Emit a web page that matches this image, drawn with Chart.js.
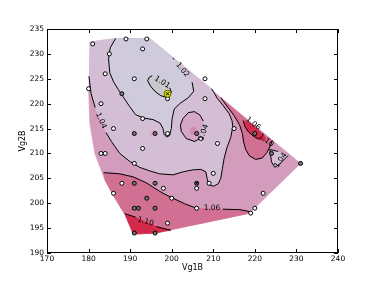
<!DOCTYPE html>
<html>
<head>
<meta charset="utf-8">
<script src="https://cdn.jsdelivr.net/npm/chart.js@4.4.0/dist/chart.umd.min.js"></script>
<style>
html,body{margin:0;padding:0;background:#fff;}
</style>
</head>
<body>
<canvas id="myChart" width="376" height="282"></canvas>
<script>
var xTicks = [170,180,190,200,210,220,230,240];
var yTicks = [190,195,200,205,210,215,220,225,230,235];

// measured points (open markers)
var openX = [181,189,194,193,185,184,191,208,180,199,208,183,193,186,199,207,215,211,193,183,184,191,210,209,188,198,206,186,222,200,206,220,219,199];
var openY = [232,233,233,231,230,226,225,225,223,221,221,220,217,215,214,213,215,212,211,210,210,208,206,204,204,203,203,202,202,201,199,199,198,196];
// measured points (filled markers)
var darkX = [188,191,196,206,220,224,231,191,196,194,191,192,196,191,196,206];
var darkY = [222,214,214,214,214,210,208,204,204,201,199,199,199,194,194,204];
// marked points
var crossX = [206,199];
var crossY = [204,222];
var bestX = [199];
var bestY = [222];

// data hull and contour paths (Vg1B, Vg2B); null = label gap
var hull = [[180.3,232.4],[186.7,233.1],[194.7,233.1],[231,208],[220.8,199.7],[218.8,198],[196,194],[190.7,193.8],[188.7,197.8],[186,201.5],[183.9,204.7],[181.5,210],[180.3,216],[180,223]];
var c104 = [[180.1,225.5],[180.6,222],[181.6,219.2],null,[184.2,214.2],[185.5,212.4],[187.5,210],[189.9,208.4],[192.3,207.2],[194.7,206.5],[197.1,205.9],[200.3,205.7],[202.7,206.3],[205.1,206.7],[207,206.8],[208.2,206.3],[208.5,205],[208.9,203.8],[210,203.4],[211.2,203.9],[211.8,205],[212.2,207],[212.6,209],[213.3,211.2],[214.2,213.2],[214.7,215.4],[214.5,216.6],[213.8,218],[212.4,219.6],[211,221],[210.2,222.2],[209.6,223]];
var c104Top = [[194.7,233.1],[186.7,233.1],[180.3,232.4]];
var c102 = [[186.5,233.1],[185.2,231.2],[184.8,229],[185.1,226.2],[186,224.4],[187.2,222.8],[188.3,221.4],[189.9,219.4],[191.3,217.8],[193.3,217.1],[195.5,216.8],[197.2,216.1],[197.9,215],[198.2,213.8],[198.8,213.3],[199.5,213.6],[199.9,215],[200.1,217],[200.6,218.9],[201.9,220],[204,221.2],[205.3,222.5],[204.9,224.3],null,[200.5,228.9],[200.3,229.2]];
var c102Top = [[194.7,233.1]];
var c101 = [[199.5,223.2],[199.9,222.4],[199.6,221.6],[198.6,221.3],[197.4,221.6],[196.2,222.3],[195,223.4],[194.2,224.6],[194.6,225.3],[195.3,225.6]];
var c101Rest = [[196.2,225.5],[197.3,225],[198.5,224.1]];
var c104Ring = [[206.9,213.1],[205.5,212.4],[203.5,213],[202.3,214.4],[202.1,215.7],[202.7,217],[204,218.2],[205.5,218.4],[206.8,217.7],[207.6,216.5]];
var ringSpot = [[204.6,215.2],[205.6,215.4],[206.2,214.6],[205.7,213.8],[204.7,213.8],[204.3,214.5]];
var leftSpot = [[195,214.6],[195.9,214.7],[196.3,214],[195.9,213.4],[195,213.4],[194.7,214]];
var c106Low = [[183.6,206.1],[184.4,206.1],[187.5,205.9],[190.7,205.3],[193.9,204.1],[195.9,203],[197.9,202],[200.3,201],[203.1,199.9],[205.9,199],null,[212.3,198.8],[216.4,198.7],[218.9,198.3]];
var c106LowRest = [[218.8,198],[196,194],[190.7,193.8],[188.7,197.8],[186,201.5],[183.9,204.7]];
var c110Low = [[188.7,197.9],[191.3,197.2],null,[196.3,195.3],[199.1,194.7],[199.8,194.6]];
var c110LowRest = [[196,194],[190.7,193.8]];
var c106Up = [[211.8,221.2],[213.5,219.3],[215,217.6],[216.3,215.8],[217,214],[217.3,212.3],[217.8,210.8],[218.7,209.5],[220.2,208.8],[221.8,209.1],[222.9,210.2],[223.6,211.3],[224.2,212.6]];
var c110Up = [[217.2,216.6],[217.6,215.4],[218.5,214.3],[219.8,213.4],[221.1,212.8]];
var c110UpRest = [[222.4,212.5],[222.7,213],[221.6,214.1],[220.2,215.2],[218.6,216.2]];
var island = [[225.6,210.4],[223.6,210.8],[224,208.3],[224.8,207.2],[226,207.9],[228,209.6]];

// contour labels
var labelText = ['1.01','1.02','1.04','1.04','1.06','1.10','1.04','1.06','1.10'];
var labelX = [197.7,202.6,183.0,207.7,219.6,222.7,226.2,209.7,193.7];
var labelY = [224.3,226.8,216.6,214.2,216.0,212.6,208.6,199.0,196.3];
var labelRot = [32,50,66,-70,38,38,-55,0,15];

function pts(arr) {
  var out = [], prev = null;
  arr.forEach(function(p){
    if (p) { out.push({x:p[0], y:p[1]}); prev = p; }
    else out.push({x:prev[0], y:null});
  });
  return out;
}
function solid(arr) { return arr.filter(function(p){ return p; }); }
function xy(xs, ys) { return xs.map(function(v,i){ return {x:v, y:ys[i]}; }); }

var layer = 100;
function shape(arr, color) {
  return {data:pts(solid(arr)), fill:'shape', backgroundColor:color, borderColor:color,
          borderWidth:0.6, pointRadius:0, tension:0, order:layer--};
}
function contour(arr) {
  return {data:pts(arr), fill:false, borderColor:'#000', borderWidth:1, pointRadius:0, tension:0, order:10};
}

var datasets = [
  shape(hull, '#d49cbc'),
  shape(c104.concat(c104Top), '#d3bed6'),
  shape(c102.concat(c102Top), '#cfcbdc'),
  shape(c101.concat(c101Rest), '#c9c9cc'),
  shape(c104Ring, '#d6a6c6'),
  shape(ringSpot, '#d38cb4'),
  shape(leftSpot, '#d8abca'),
  shape(c106Low.concat(c106LowRest), '#d27093'),
  shape(c110Low.concat(c110LowRest), '#d32a4c'),
  shape(c106Up, '#d27093'),
  shape(c110Up.concat(c110UpRest), '#d32a4c'),
  shape(island, '#d3bed6'),
  contour(c104), contour(c102), contour(c101), contour(c104Ring),
  contour(c106Low), contour(c110Low), contour(c106Up), contour(c110Up), contour(island),
  {data:xy(openX, openY), showLine:false, pointRadius:2, pointBackgroundColor:'#fff',
   pointBorderColor:'#000', pointBorderWidth:1, order:4},
  {data:xy(darkX, darkY), showLine:false, pointRadius:2, pointBackgroundColor:'#777',
   pointBorderColor:'#000', pointBorderWidth:1, order:3},
  {data:xy(bestX, bestY), showLine:false, pointRadius:3.5, pointBackgroundColor:'#ccd800',
   pointBorderColor:'#6b6b00', pointBorderWidth:1, order:2},
  {data:xy(crossX, crossY), showLine:false, pointStyle:'crossRot', pointRadius:2,
   pointBorderColor:'#000', pointBorderWidth:1, order:1}
];

var decor = {
  id:'decor',
  afterDatasetsDraw: function(chart) {
    var ctx = chart.ctx, sx = chart.scales.x, sy = chart.scales.y;
    ctx.save();
    ctx.font = '7.5px "DejaVu Sans"';
    ctx.fillStyle = '#000';
    ctx.textAlign = 'center';
    ctx.textBaseline = 'middle';
    labelText.forEach(function(t, i){
      ctx.save();
      ctx.translate(sx.getPixelForValue(labelX[i]), sy.getPixelForValue(labelY[i]));
      ctx.rotate(labelRot[i] * Math.PI / 180);
      ctx.fillText(t, 0, 0);
      ctx.restore();
    });
    ctx.restore();
  },
  afterDraw: function(chart) {
    var ctx = chart.ctx, a = chart.chartArea, sx = chart.scales.x, sy = chart.scales.y;
    ctx.save();
    ctx.strokeStyle = '#000';
    ctx.lineWidth = 1;
    ctx.strokeRect(a.left + 0.5, a.top + 0.5, a.right - a.left - 1, a.bottom - a.top - 1);
    ctx.beginPath();
    xTicks.forEach(function(v){
      var px = Math.round(sx.getPixelForValue(v)) + 0.5;
      ctx.moveTo(px, a.bottom); ctx.lineTo(px, a.bottom - 4);
      ctx.moveTo(px, a.top); ctx.lineTo(px, a.top + 4);
    });
    yTicks.forEach(function(v){
      var py = Math.round(sy.getPixelForValue(v)) + 0.5;
      ctx.moveTo(a.left, py); ctx.lineTo(a.left + 4, py);
      ctx.moveTo(a.right, py); ctx.lineTo(a.right - 4, py);
    });
    ctx.stroke();
    ctx.fillStyle = '#000';
    ctx.font = '8px "DejaVu Sans"';
    ctx.textAlign = 'center';
    ctx.textBaseline = 'middle';
    ctx.fillText('Vg1B', (a.left + a.right) / 2, a.bottom + 15);
    ctx.translate(a.left - 24, (a.top + a.bottom) / 2);
    ctx.rotate(-Math.PI / 2);
    ctx.fillText('Vg2B', 0, 0);
    ctx.restore();
  }
};

var tickFont = {family:'DejaVu Sans', size:7.5};
new Chart(document.getElementById('myChart').getContext('2d'), {
  type:'line',
  data:{datasets:datasets},
  options:{
    responsive:false,
    animation:false,
    devicePixelRatio:1,
    layout:{padding:{left:0, top:29, right:38, bottom:0}},
    plugins:{legend:{display:false}, tooltip:{enabled:false}},
    scales:{
      x:{type:'linear', min:170, max:240,
         afterBuildTicks:function(s){ s.ticks = xTicks.map(function(v){ return {value:v}; }); },
         afterFit:function(s){ s.height = 29; },
         ticks:{color:'#000', font:tickFont, padding:2, maxRotation:0, autoSkip:false},
         grid:{display:false, drawTicks:false}, border:{display:false}},
      y:{type:'linear', min:190, max:235,
         afterBuildTicks:function(s){ s.ticks = yTicks.map(function(v){ return {value:v}; }); },
         afterFit:function(s){ s.width = 47; },
         ticks:{color:'#000', font:tickFont, padding:3, autoSkip:false},
         grid:{display:false, drawTicks:false}, border:{display:false}}
    }
  },
  plugins:[decor]
});
</script>
</body>
</html>
